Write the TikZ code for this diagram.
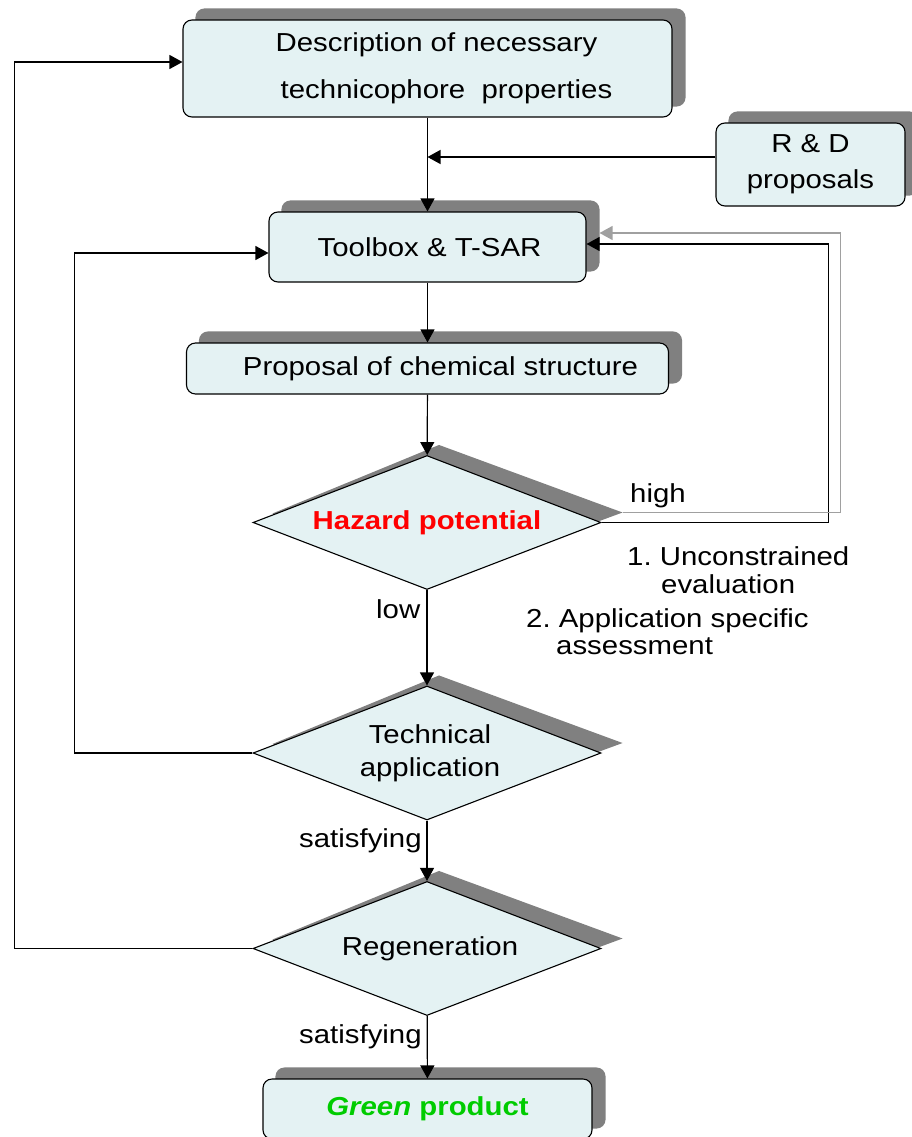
\documentclass[tikz,border=0pt]{standalone}
\usepackage{fontspec}
\setmainfont[FakeStretch=1.13]{Liberation Sans}
\usetikzlibrary{arrows.meta,shapes.geometric}

\definecolor{boxfill}{RGB}{228,242,243}
\definecolor{shadowgray}{RGB}{128,128,128}
\definecolor{loopgray}{RGB}{160,160,160}
\definecolor{hazred}{RGB}{255,0,0}
\definecolor{prodgreen}{RGB}{0,204,0}

\pgfdeclarelayer{shadelayer}
\pgfsetlayers{shadelayer,main}

% offset shadows behind boxes and decision diamonds
\newcommand\boxshade[1]{\fill[shadowgray, rounded corners=9pt]
  ([shift={(13,-11)}]#1.north west) rectangle ([shift={(13,-11)}]#1.south east);}
\newcommand\diashade[1]{\fill[shadowgray]
  ([shift={(20,-9)}]#1.west) -- ([shift={(12,-10)}]#1.north) --
  ([shift={(21,-10)}]#1.east) -- ([shift={(12,-10)}]#1.south) -- cycle;}

\begin{document}
\frenchspacing
\begin{tikzpicture}[x=1pt,y=-1pt,
  every node/.style={font=\fontsize{26}{30}\selectfont},
  box/.style={draw=black, line width=1.1pt, fill=boxfill, rounded corners=9pt,
    align=center, inner sep=0pt},
  dec/.style={diamond, draw=black, line width=1.1pt, fill=boxfill, align=center,
    inner sep=0pt, aspect=2.6, minimum width=348pt, minimum height=134pt},
  flow/.style={draw=black, line width=1.2pt, -{Triangle[length=13pt,width=14pt]}},
  back/.style={draw=loopgray, line width=1.2pt, -{Triangle[length=13pt,width=14pt]}},
  lbl/.style={anchor=base west, inner sep=0pt},
]
\useasboundingbox (0,0) rectangle (912,1137);

% process steps
\node[box, minimum width=489pt, minimum height=97pt,
      font=\fontsize{26}{47}\selectfont] (desc) at (427.5,68.5)
  {\hspace*{18pt}Description of necessary\\\hspace*{38pt}technicophore~ properties};
\node[box, minimum width=189pt, minimum height=83pt,
      font=\fontsize{26}{36}\selectfont] (rd) at (810.5,164.5)
  {R \& D\\proposals};
\node[box, minimum width=317pt, minimum height=70pt] (tool) at (427.5,247)
  {\hspace*{4pt}Toolbox \& T-SAR};
\node[box, minimum width=482pt, minimum height=51pt] (prop) at (427.5,368.5)
  {\hspace*{26pt}Proposal of chemical structure};

% decisions
\node[dec, text=hazred, font=\fontsize{26}{30}\selectfont\bfseries] (hz) at (427,522.5)
  {Hazard potential};
\node[dec, font=\fontsize{26}{33}\selectfont] (tech) at (427,753)
  {\hspace*{6pt}Technical\\\hspace*{6pt}application};
\node[dec] (regen) at (427,948.5) {\hspace*{6pt}Regeneration};

% result
\node[box, minimum width=329pt, minimum height=60pt, text=prodgreen,
      font=\fontsize{26}{30}\selectfont\bfseries] (green) at (427.5,1109)
  {\itshape Green\upshape{} product};

\begin{pgfonlayer}{shadelayer}
  \boxshade{desc}
  \boxshade{rd}
  \boxshade{tool}
  \boxshade{prop}
  \boxshade{green}
  \diashade{hz}
  \diashade{tech}
  \diashade{regen}
\end{pgfonlayer}

% main flow
\coordinate (join) at (427.5,157);
\draw[flow] (desc) -- (tool);
\draw[flow] (rd.west |- join) -- (join);
\draw[flow] (tool) -- (prop);
\draw[flow] (prop) -- (hz);
\draw[flow] (hz) -- (tech);
\draw[flow] (tech) -- (regen);
\draw[flow] (regen) -- (green);

% feedback loops on the left
\coordinate (lt) at (74.5,253);
\draw[flow] (tech.west) -| (lt) -- (lt -| tool.west);
\coordinate (lo) at (14.5,62);
\draw[flow] (regen.west) -| (lo) -- (lo -| desc.west);

% feedback loops on the right
\coordinate (rb) at (828.5,244);
\draw[flow] (hz.east) -| (rb) -- (rb -| tool.east);
\coordinate (gs) at ([shift={(21,-10)}]hz.east);
\coordinate (gr) at (840.5,233);
\coordinate (ge) at ([xshift=13pt]tool.east);
\draw[back] (gs) -| (gr) -- (gr -| ge);

% labels
\node[lbl] (lhigh) at (630,502) {high};
\node[lbl] (l1a) at (627,565) {1. Unconstrained};
\node[lbl] (l1b) at (661,593) {evaluation};
\node[lbl] (l2a) at (526,627) {2. Application specific};
\node[lbl] (l2b) at (556,654) {assessment};
\node[lbl] (llow) at (376,618) {low};
\node[lbl] (lsat1) at (299,847) {satisfying};
\node[lbl] (lsat2) at (299,1043) {satisfying};
\end{tikzpicture}
\end{document}
